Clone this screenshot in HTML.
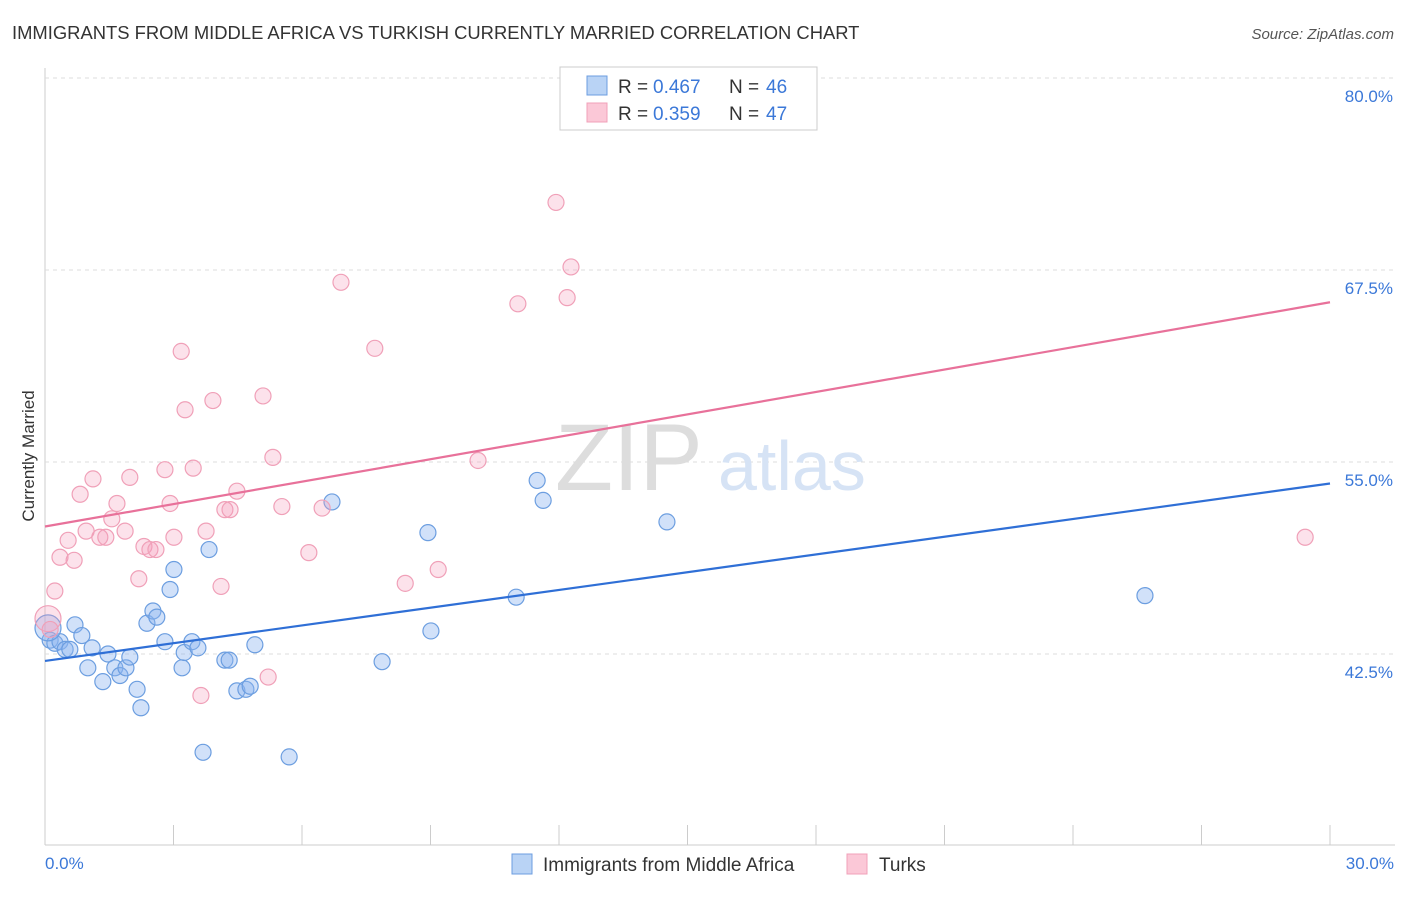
<!DOCTYPE html>
<html><head><meta charset="utf-8"><style>
body{margin:0;background:#fff;font-family:"Liberation Sans",sans-serif}
svg text{font-family:"Liberation Sans",sans-serif}
</style></head><body>
<svg width="1406" height="892" xmlns="http://www.w3.org/2000/svg">
<text x="12" y="39" font-size="18.4" fill="#333">IMMIGRANTS FROM MIDDLE AFRICA VS TURKISH CURRENTLY MARRIED CORRELATION CHART</text>
<text x="1394" y="39" font-size="15" fill="#555" font-style="italic" text-anchor="end">Source: ZipAtlas.com</text>
<g id="grid"></g>
<text x="555" y="490" font-size="95" fill="#ddd" font-family="Liberation Serif">ZIP</text>
<text x="718" y="490" font-size="70" fill="#d6e3f5">atlas</text>
<g id="pts"></g>
<g id="lines"></g>
<text transform="translate(34,456) rotate(-90)" font-size="17" fill="#333" text-anchor="middle">Currently Married</text>
<text x="45" y="869" font-size="17" fill="#3b78d8">0.0%</text>
<text x="1394" y="869" font-size="17" fill="#3b78d8" text-anchor="end">30.0%</text>
<g>
<rect x="560" y="67" width="257" height="63" fill="#fff" stroke="#ccc"/>
<rect x="587" y="76" width="20" height="19" fill="#b9d3f5" stroke="#6c9ee0"/>
<rect x="587" y="103" width="20" height="19" fill="#fbc8d7" stroke="#f0a0b8"/>
<text x="618" y="93" font-size="19" fill="#333">R =</text>
<text x="653" y="93" font-size="19" fill="#3b78d8">0.467</text>
<text x="729" y="93" font-size="19" fill="#333">N =</text>
<text x="766" y="93" font-size="19" fill="#3b78d8">46</text>
<text x="618" y="120" font-size="19" fill="#333">R =</text>
<text x="653" y="120" font-size="19" fill="#3b78d8">0.359</text>
<text x="729" y="120" font-size="19" fill="#333">N =</text>
<text x="766" y="120" font-size="19" fill="#3b78d8">47</text>
</g>
<g>
<rect x="512" y="854" width="20" height="20" fill="#b9d3f5" stroke="#6c9ee0"/>
<text x="543" y="871" font-size="19" fill="#333">Immigrants from Middle Africa</text>
<rect x="847" y="854" width="20" height="20" fill="#fbc8d7" stroke="#f0a0b8"/>
<text x="879" y="871" font-size="19" fill="#333">Turks</text>
</g>
</svg>
<script>
const yTicks=[80,67.5,55,42.5];
const xTicks=[3,6,9,12,15,18,21,24,27,30];
const blueX=[0.12,0.23,0.35,0.47,0.58,0.70,0.86,1.0,1.1,1.35,1.47,1.63,1.75,1.89,1.98,2.15,2.24,2.38,2.52,2.61,2.8,2.92,3.01,3.2,3.25,3.43,3.57,3.69,3.83,4.2,4.3,4.48,4.69,4.79,4.9,5.7,6.7,7.87,8.94,9.01,11.0,11.49,11.63,14.52,25.68,0.07];
const blueY=[43.4,43.2,43.3,42.8,42.8,44.4,43.7,41.6,42.9,40.7,42.5,41.6,41.1,41.6,42.3,40.2,39.0,44.5,45.3,44.9,43.3,46.7,48.0,41.6,42.6,43.3,42.9,36.1,49.3,42.1,42.1,40.1,40.2,40.4,43.1,35.8,52.4,42.0,50.4,44.0,46.2,53.8,52.5,51.1,46.3,44.2];
const pinkX=[0.07,0.12,0.23,0.35,0.54,0.68,0.82,0.96,1.12,1.28,1.42,1.56,1.68,1.87,1.98,2.19,2.31,2.45,2.59,2.8,2.92,3.01,3.18,3.27,3.46,3.76,3.92,4.11,4.2,4.32,4.48,5.09,5.21,5.32,5.53,3.64,6.16,6.47,6.91,7.7,8.41,9.18,10.11,11.04,11.93,12.19,12.28,29.42];
const pinkY=[44.8,44.1,46.6,48.8,49.9,48.6,52.9,50.5,53.9,50.1,50.1,51.3,52.3,50.5,54.0,47.4,49.5,49.3,49.3,54.5,52.3,50.1,62.2,58.4,54.6,50.5,59.0,46.9,51.9,51.9,53.1,59.3,41.0,55.3,52.1,39.8,49.1,52.0,66.7,62.4,47.1,48.0,55.1,65.3,71.9,65.7,67.7,50.1];
const blueFit=[42.05,53.6];
const pinkFit=[50.8,65.4];
const X=v=>45+v/30*1285, Y=v=>78+(80-v)*15.36;
const NS="http://www.w3.org/2000/svg";
function mk(t,a,p){const e=document.createElementNS(NS,t);for(const k in a)e.setAttribute(k,a[k]);p.appendChild(e);return e;}
const g=document.getElementById('grid');
const ax=mk('line',{x1:45,y1:68,x2:45,y2:845,stroke:'#ccc'},g);


const bx=mk('line',{x1:45,y1:845,x2:1395,y2:845,stroke:'#ccc'},g);


yTicks.forEach(v=>{
 const l=mk('line',{x1:45,x2:1395,y1:Y(v),y2:Y(v),stroke:'#ddd','stroke-dasharray':'4,4'},g);
 
 
 const t=mk('text',{x:1393,y:Y(v)+24,'font-size':17,fill:'#3b78d8','text-anchor':'end'},g);
 t.textContent=v.toFixed(1)+'%';
 
 
});
xTicks.forEach(v=>{
 const l=mk('line',{x1:X(v),x2:X(v),y1:825,y2:845,stroke:'#ccc'},g);
 
 
});
const p=document.getElementById('pts');
function pts(xs,ys,fill,stroke,name){xs.forEach((x,i)=>{
 const r=(i===xs.length-1&&name==='blue-point')||(i===0&&name==='pink-point')?13:8;
 const c=mk('circle',{cx:X(x),cy:Y(ys[i]),r:r,fill:fill,stroke:stroke,'stroke-width':1.2},p);
 
 
});}
pts(blueX,blueY,'rgba(140,180,240,0.4)','#6c9ee0','blue-point');
pts(pinkX,pinkY,'rgba(245,160,190,0.3)','#f0a0b8','pink-point');
const lg=document.getElementById('lines');
const bl=mk('line',{x1:X(0),y1:Y(blueFit[0]),x2:X(30),y2:Y(blueFit[1]),stroke:'#2f6fd6','stroke-width':2.2},lg);


const pl=mk('line',{x1:X(0),y1:Y(pinkFit[0]),x2:X(30),y2:Y(pinkFit[1]),stroke:'#e8719a','stroke-width':2.2},lg);


</script>
</body></html>
